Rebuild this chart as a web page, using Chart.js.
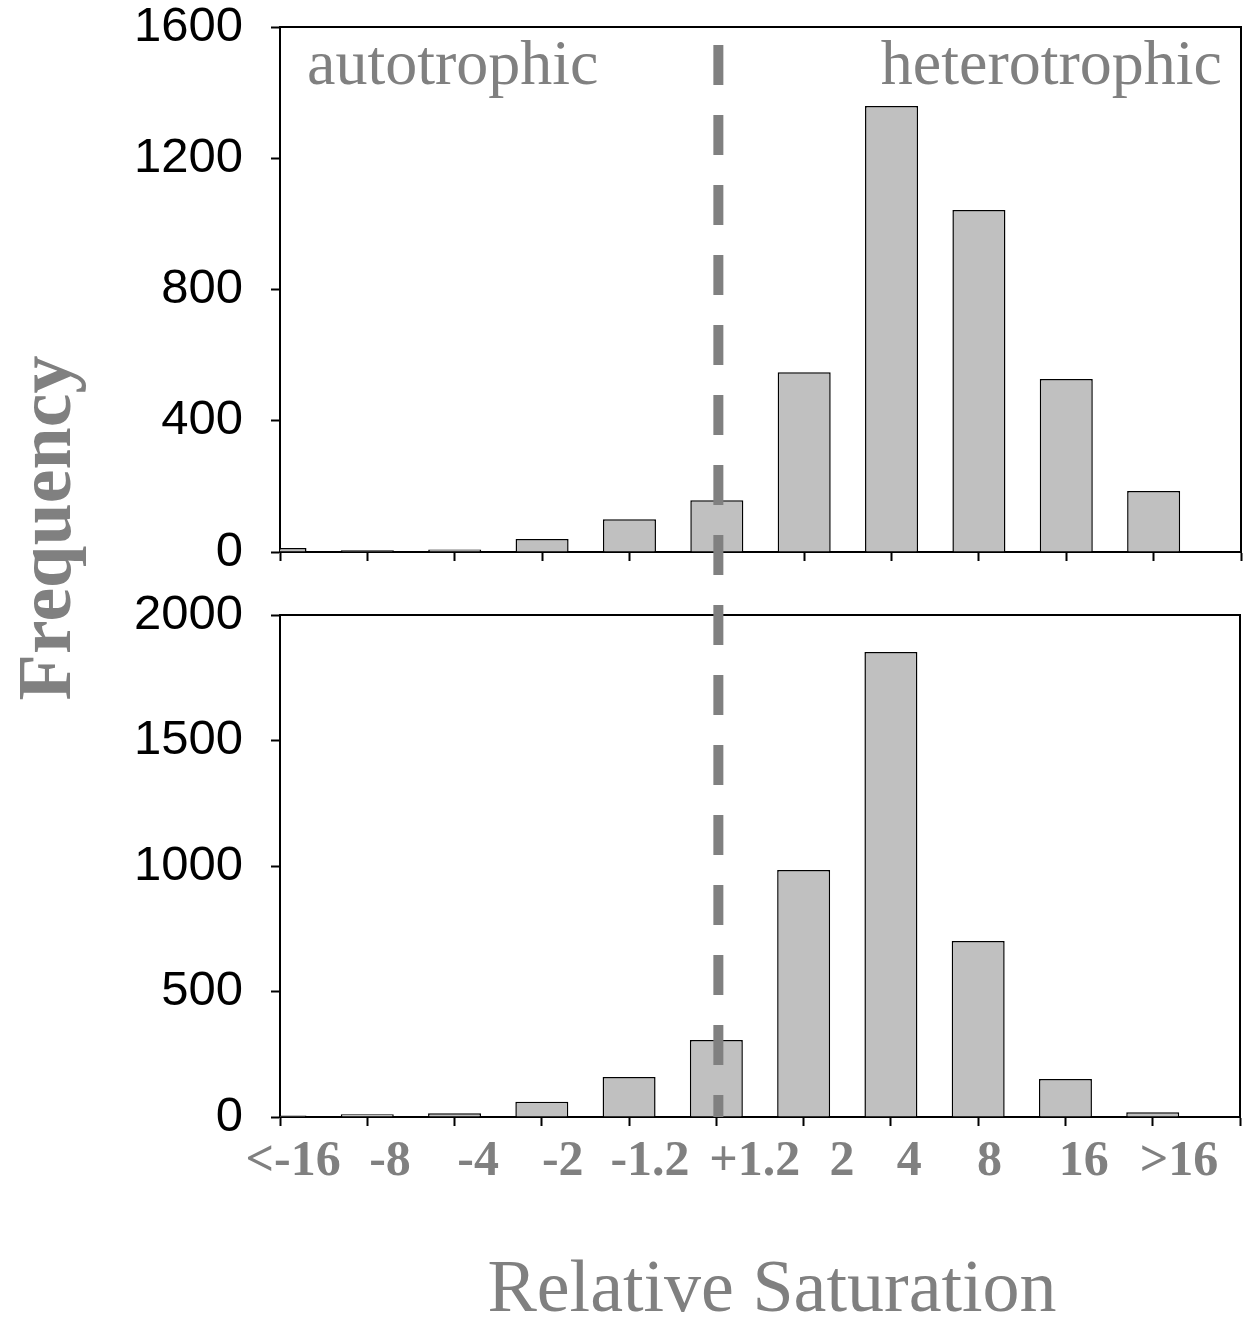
<!DOCTYPE html>
<html>
<head>
<meta charset="utf-8">
<script src="https://cdn.jsdelivr.net/npm/chart.js@4.4.1/dist/chart.umd.min.js"></script>
<style>
  body { margin: 0; background: #fff; }
  #wrap { position: relative; width: 1246px; height: 1321px; }
  #wrap canvas { position: absolute; left: 0; top: 0; }
</style>
</head>
<body>
<div id="wrap">
  <canvas id="topChart" width="1246" height="1321"></canvas>
  <canvas id="bottomChart" width="1246" height="1321"></canvas>
</div>
<script>
// bin positions (0 = "<-16" ... 10 = ">16")
const bins = [0, 1, 2, 3, 4, 5, 6, 7, 8, 9, 10];
const topFreq = [12, 5, 8, 40, 100, 158, 548, 1359, 1042, 527, 186];
const bottomFreq = [6, 11, 15, 61, 159, 307, 984, 1853, 701, 151, 19];

// x labels and where they sit along the axis
const xLabels = ['<-16', '-8', '-4', '-2', '-1.2', '+1.2', '2', '4', '8', '16', '>16'];
const xLabelPos = [0.15, 1.26, 2.27, 3.24, 4.24, 5.44, 6.44, 7.21, 8.13, 9.21, 10.30];

const topTicks = [0, 400, 800, 1200, 1600];
const bottomTicks = [0, 500, 1000, 1500, 2000];

const grey = '#808080';

function toPoints(vals) {
    return bins.map(function (b, i) { return { x: b, y: vals[i] }; });
}

function barSet(vals) {
    return {
        data: toPoints(vals),
        backgroundColor: '#c0c0c0',
        borderColor: '#000',
        borderWidth: 1.5,
        categoryPercentage: 0.607,
        barPercentage: 1
    };
}

function yScale(ticks) {
    return {
        min: ticks[0],
        max: ticks[ticks.length - 1],
        afterBuildTicks: function (s) { s.ticks = ticks.map(function (v) { return { value: v }; }); },
        ticks: {
            color: '#000',
            font: { family: 'Liberation Sans', size: 49 },
            padding: 28,
            callback: function (v) { return String(v); }
        },
        grid: { drawOnChartArea: false, tickLength: 9, tickColor: '#000', tickWidth: 2 },
        border: { color: '#000', width: 2 },
        afterFit: function (s) {
            s.width = 280;
            // labels may overhang the plot area; layout padding handles it
            s.paddingTop = 0;
            s.paddingBottom = 0;
        }
    };
}

function xTickScale(h) {
    return {
        type: 'linear',
        position: 'bottom',
        weight: 0,
        min: 0,
        max: 11,
        offset: false,
        afterBuildTicks: function (s) {
            s.ticks = [0, 1, 2, 3, 4, 5, 6, 7, 8, 9, 10, 11].map(function (v) { return { value: v }; });
        },
        ticks: { display: false },
        grid: { offset: false, drawOnChartArea: false, tickLength: 9, tickColor: '#000', tickWidth: 2 },
        border: { color: '#000', width: 2 },
        afterFit: function (s) { s.height = h; }
    };
}

// box around plot area (top + right lines)
const frame = {
    id: 'frame',
    afterDatasetsDraw: function (chart) {
        const a = chart.chartArea;
        const ctx = chart.ctx;
        ctx.save();
        ctx.strokeStyle = '#000';
        ctx.lineWidth = 2;
        ctx.beginPath();
        ctx.moveTo(a.left, a.top);
        ctx.lineTo(a.right, a.top);
        ctx.lineTo(a.right, a.bottom);
        ctx.stroke();
        ctx.restore();
    }
};

const topLabels = {
    id: 'topLabels',
    afterDraw: function (chart) {
        const a = chart.chartArea;
        const ctx = chart.ctx;
        ctx.save();
        ctx.fillStyle = grey;
        ctx.font = '64px "Liberation Serif"';
        ctx.textBaseline = 'alphabetic';
        ctx.textAlign = 'left';
        ctx.fillText('autotrophic', a.left + 27, a.top + 57);
        ctx.textAlign = 'right';
        ctx.fillText('heterotrophic', a.right - 19, a.top + 57);
        ctx.restore();
    }
};

var topChart = new Chart(document.getElementById('topChart'), {
    type: 'bar',
    data: { datasets: [barSet(topFreq)] },
    options: {
        responsive: false,
        animation: false,
        layout: { padding: { top: 27, right: 5, left: 0, bottom: 0 } },
        plugins: { legend: { display: false }, tooltip: { enabled: false } },
        scales: {
            x: xTickScale(1321 - 552),
            y: yScale(topTicks)
        }
    },
    plugins: [frame, topLabels]
});

// dashed divider spanning both panels, plus axis titles
const divider = {
    id: 'divider',
    afterDraw: function (chart) {
        const ctx = chart.ctx;
        const x = chart.scales.x.getPixelForValue(5) + 2;
        const y0 = topChart.chartArea.top + 18;
        ctx.save();
        ctx.strokeStyle = grey;
        ctx.lineWidth = 10;
        ctx.setLineDash([40, 30]);
        ctx.beginPath();
        ctx.moveTo(x, y0);
        ctx.lineTo(x, chart.chartArea.bottom);
        ctx.stroke();
        ctx.setLineDash([]);

        ctx.fillStyle = grey;
        ctx.font = '74px "Liberation Serif"';
        ctx.textAlign = 'center';
        ctx.textBaseline = 'alphabetic';
        ctx.fillText('Relative Saturation', 772, 1311);

        ctx.translate(70, 528);
        ctx.rotate(-Math.PI / 2);
        ctx.font = 'bold 76px "Liberation Serif"';
        ctx.fillText('Frequency', 0, 0);
        ctx.restore();
    }
};

var bottomChart = new Chart(document.getElementById('bottomChart'), {
    type: 'bar',
    data: { datasets: [barSet(bottomFreq)] },
    options: {
        responsive: false,
        animation: false,
        layout: { padding: { top: 615, right: 6, left: 0, bottom: 0 } },
        plugins: { legend: { display: false }, tooltip: { enabled: false } },
        scales: {
            x: xTickScale(9),
            xlab: {
                type: 'linear',
                position: 'bottom',
                weight: 1,
                min: 0,
                max: 11,
                offset: false,
                afterBuildTicks: function (s) {
                    s.ticks = xLabelPos.map(function (v) { return { value: v }; });
                },
                ticks: {
                    autoSkip: false,
                    maxRotation: 0,
                    color: grey,
                    padding: 6,
                    font: { family: 'Liberation Serif', size: 50, weight: 'bold' },
                    callback: function (v, i) { return xLabels[i]; }
                },
                grid: { display: false, drawTicks: false, tickLength: 0 },
                border: { display: false },
                afterFit: function (s) { s.height = 1321 - 1117 - 9; }
            },
            y: yScale(bottomTicks)
        }
    },
    plugins: [frame, divider]
});
</script>
</body>
</html>
